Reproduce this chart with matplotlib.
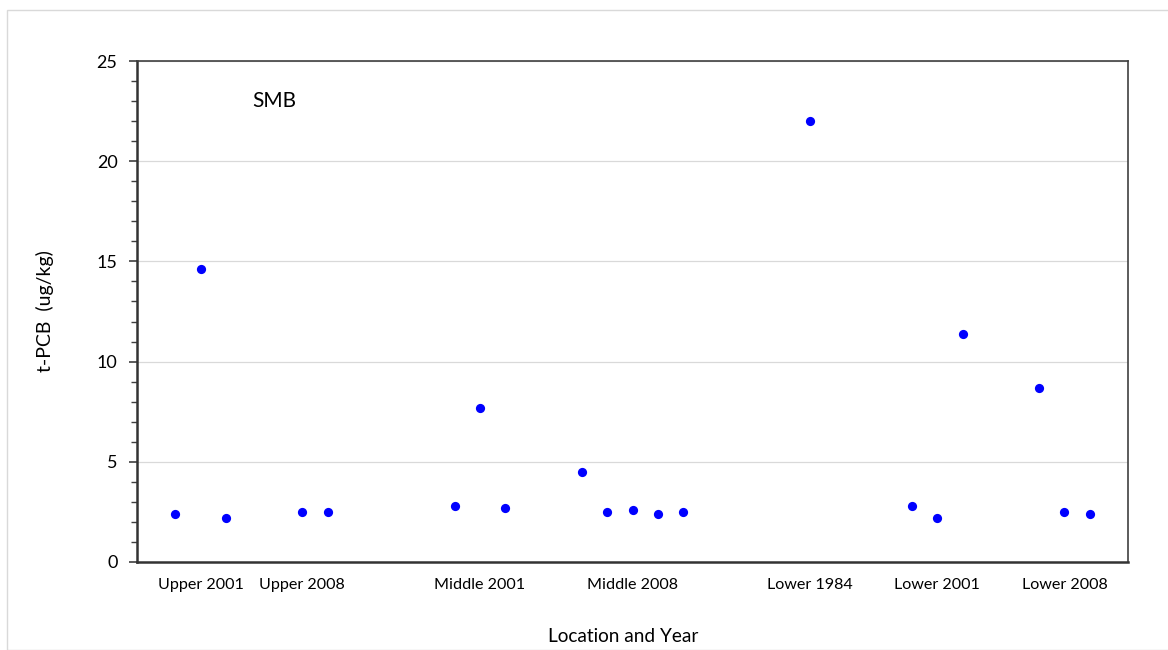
import matplotlib.pyplot as plt
from matplotlib.patches import Rectangle
from matplotlib.ticker import MultipleLocator

plt.rcParams['font.family'] = ['Lato', 'DejaVu Sans']

# sample index along the x axis and t-PCB values
sample_x = [1, 2, 3, 6, 7, 12, 13, 14, 17, 18, 19, 20, 21, 26, 30, 31, 32, 35, 36, 37]
tpcb = [2.4, 14.6, 2.2, 2.5, 2.5, 2.8, 7.7, 2.7, 4.5, 2.5, 2.6, 2.4, 2.5, 22.0,
        2.8, 2.2, 11.4, 8.7, 2.5, 2.4]

group_labels = ['Upper 2001', 'Upper 2008', 'Middle 2001', 'Middle 2008',
                'Lower 1984', 'Lower 2001', 'Lower 2008']
group_pos = [2, 6, 13, 19, 26, 31, 36]

fig = plt.figure(figsize=(11.68, 6.5), dpi=100)
fig.patches.append(Rectangle((7 / 1168, 0), 1.2, 1 - 10 / 650, transform=fig.transFigure,
                             fill=False, edgecolor='#d9d9d9', linewidth=1))
ax = fig.add_axes([137 / 1168, 1 - 562 / 650, 991 / 1168, 501 / 650])

ax.scatter(sample_x, tpcb, s=44, color='#0000ff', zorder=3, linewidths=0)

ax.set_xlim(-0.5, 38.5)
ax.set_ylim(0, 25)
ax.yaxis.set_major_locator(MultipleLocator(5))
ax.yaxis.set_minor_locator(MultipleLocator(1))
ax.grid(axis='y', which='major', color='#d9d9d9', linewidth=0.9)
ax.set_axisbelow(True)
ax.set_xticks([])
ax.tick_params(axis='y', which='major', length=6, width=1.2, color='#404040',
               labelsize=13, pad=8)
ax.tick_params(axis='y', which='minor', length=4, width=1, color='#404040')

for side in ['left', 'bottom']:
    ax.spines[side].set_linewidth(1.8)
    ax.spines[side].set_color('#333333')
for side in ['top', 'right']:
    ax.spines[side].set_linewidth(1.2)
    ax.spines[side].set_color('#404040')

for pos, lab in zip(group_pos, group_labels):
    ax.text(pos, -1.15, lab, ha='center', va='center', fontsize=11.6)

ax.text(0.139, 0.92, 'SMB', transform=ax.transAxes, ha='center', va='center', fontsize=15)

fig.text(45 / 1168, 1 - 311 / 650, 't-PCB  (ug/kg)', rotation=90, ha='center',
         va='center', fontsize=14)
fig.text(623 / 1168, 1 - 636 / 650, 'Location and Year', ha='center', va='center',
         fontsize=13.7)

fig.savefig('out.png', dpi=100)
